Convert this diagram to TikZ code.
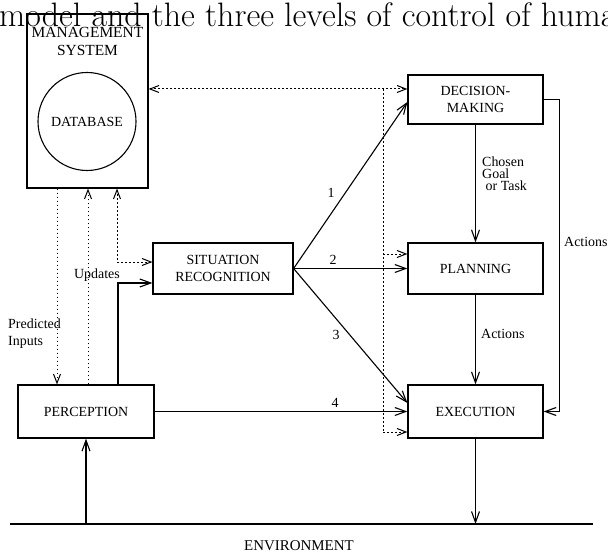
\documentclass[tikz,border=0pt]{standalone}
\usepackage{fontspec}
\newfontfamily\tms{Liberation Serif}
\usetikzlibrary{arrows.meta,calc}
\tikzset{
  box/.style={draw,line width=1.2bp,rectangle,inner sep=0pt,align=center,font=\tms\fontsize{14}{17}\selectfont},
  lbl/.style={inner sep=0pt,font=\tms\fontsize{14}{17}\selectfont},
  arr/.style={line width=1.1bp,-{Straight Barb[length=11pt,width=8pt,line width=1.1bp]}},
  plainline/.style={line width=1.2bp},
  dotline/.style={line width=1bp,dash pattern=on 1.6bp off 2.4bp},
  dotarr/.style={dotline,-{Straight Barb[length=9pt,width=7pt,line width=1bp]}},
  dotarr2/.style={dotline,{Straight Barb[length=9pt,width=7pt,line width=1bp]}-{Straight Barb[length=9pt,width=7pt,line width=1bp]}},
}
\begin{document}
\begin{tikzpicture}[x=1bp,y=-1bp]
\useasboundingbox (0,0) rectangle (608,553);
\fill[white] (0,0) rectangle (608,553);
% title (clipped by page)
\node[anchor=base west,inner sep=0pt,font=\fontsize{34}{34}\selectfont] (title) at (-1,27) {model and the three levels of control of human};
% boxes
\node[box,minimum width=121bp,minimum height=174bp] (mgmt) at (87.5,101) {};
\node[lbl,align=center,font=\tms\fontsize{15.5}{19}\selectfont] (mgmtlbl) at (87.5,41.5) {MANAGEMENT\\SYSTEM};
\node[draw,circle,line width=1.1bp,minimum size=98bp,inner sep=0pt,font=\tms\fontsize{14}{17}\selectfont] (db) at (87,121.5) {DATABASE};
\node[box,minimum width=135bp,minimum height=49bp] (dec) at (475.5,99.5) {DECISION-\\MAKING};
\node[box,minimum width=135bp,minimum height=51bp] (plan) at (475.5,268.5) {PLANNING};
\node[box,minimum width=135bp,minimum height=53bp] (exe) at (475.5,411.5) {EXECUTION};
\node[box,minimum width=140bp,minimum height=51bp] (sit) at (223,268.5) {SITUATION\\RECOGNITION};
\node[box,minimum width=136bp,minimum height=53bp] (per) at (86,411.5) {PERCEPTION};
% helper coordinates
\coordinate (bustop) at (383,89);
\coordinate (busbot) at (383,432);
\coordinate (busp) at (383,254);
\coordinate (envL) at (10,524);
\coordinate (envR) at (593,524);
\coordinate (c57) at (57,300);
\coordinate (c88) at (88,300);
\coordinate (c117) at (117,300);
% environment line
\draw[plainline] (envL) -- (envR);
\node[lbl,font=\tms\fontsize{15}{17}\selectfont] (env) at (299,546) {ENVIRONMENT};
% dotted bus
\draw[dotarr2] (bustop -| mgmt.east) -- (bustop -| dec.west);
\draw[dotline] (bustop) -- (busbot);
\draw[dotarr] (busp) -- (busp -| plan.west);
\draw[dotarr] (busbot) -- (busbot -| exe.west);
% situation recognition outputs
\draw[arr] (sit.east) -- ($(dec.west)+(0,2.5)$);
\draw[arr] (sit.east) -- (plan.west);
\draw[arr] (sit.east) -- ($(exe.west)+(0,-8.5)$);
\draw[arr] (per.east) -- (per.east -| exe.west);
\node[lbl] (n1) at (331,193) {1};
\node[lbl] (n2) at (333,260) {2};
\node[lbl] (n3) at (336,335) {3};
\node[lbl] (n4) at (335,403) {4};
% vertical chain
\draw[arr] (dec.south) -- (plan.north);
\draw[arr] (plan.south) -- (exe.north);
\draw[arr] (dec.east) -- ++(16,0) |- (exe.east);
\draw[arr] (exe.south) -- (exe.south |- envL);
\draw[arr] (per.south |- envL) -- (per.south);
\node[lbl,anchor=west,align=left,font=\tms\fontsize{14}{12}\selectfont] (chosen) at (482,174) {Chosen\\Goal\\\ or Task};
\node[lbl,anchor=west] (act1) at (481,334) {Actions};
\node[lbl,anchor=west] (act2) at (564,242) {Actions};
% left side connections
\draw[dotarr] (mgmt.south -| c57) -- (per.north -| c57);
\draw[dotarr] (per.north -| c88) -- (mgmt.south -| c88);
\draw[dotarr2] (mgmt.south -| c117) |- ($(sit.west)+(0,-6.5)$);
\draw[arr] ($(per.north)+(32,0)$) |- ($(sit.west)+(0,14.5)$);
\node[lbl] (upd) at (97,275) {Updates};
\node[lbl,anchor=west,align=left,font=\tms\fontsize{14}{17}\selectfont] (pred) at (8,333.5) {Predicted\\Inputs};
\end{tikzpicture}
\end{document}
